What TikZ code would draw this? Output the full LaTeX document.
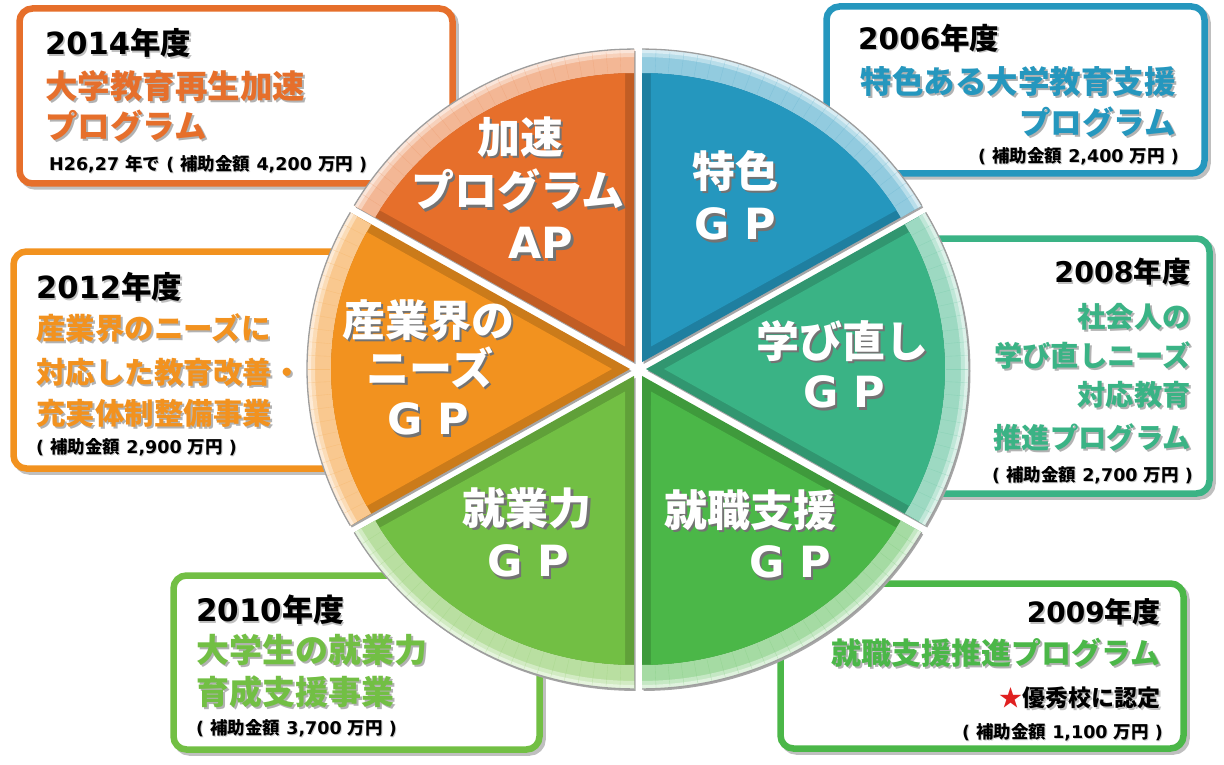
\documentclass[tikz,border=0pt]{standalone}
\usepackage{fontspec}
\setmainfont{Noto Sans CJK JP}
\newfontfamily\latf{DejaVu Sans}
\usetikzlibrary{calc}
\definecolor{cAP}{HTML}{E66F2B}
\definecolor{cTK}{HTML}{2597BE}
\definecolor{cMN}{HTML}{3AB385}
\definecolor{cSS}{HTML}{4BB748}
\definecolor{cSG}{HTML}{72BF44}
\definecolor{cSN}{HTML}{F2921F}
\definecolor{starred}{HTML}{E02020}
\newcommand\nm[1]{{\latf\bfseries #1}}
\newcommand\fsz[1]{\fontsize{#1}{#1}\selectfont}
\newcommand\shd[3]{\leavevmode\rlap{\hspace*{#1}\raisebox{-#1}[0pt][0pt]{\textcolor{#2}{#3}}}#3}
\newcommand\sector[3]{%
 \pgfmathsetmacro\secbis{(#1+#2)/2}%
 \pgfmathsetmacro\secia{#1+1.7}%
 \pgfmathsetmacro\secib{#2-1.7}%
 \begin{scope}[shift={(\secbis:8)}]
  \fill[black!35] ($(638,369)+(1.5,2)$) -- ($(638,369)+(1.5,2)+(#1:323 and 313)$) arc[start angle=#1,end angle=#2,x radius=323,y radius=313] -- cycle;
  \fill[#3!84!black] (638,369) -- ($(638,369)+(#1:323 and 313)$) arc[start angle=#1,end angle=#2,x radius=323,y radius=313] -- cycle;
  \fill[#3!50!white] ($(638,369)+(#1:323 and 313)$) arc[start angle=#1,end angle=#2,x radius=323,y radius=313] -- ($(638,369)+(#2:299 and 289)$) arc[start angle=#2,end angle=#1,x radius=299,y radius=289] -- cycle;
  \fill[#3!32!white] ($(638,369)+(#1:323 and 313)$) arc[start angle=#1,end angle=#2,x radius=323,y radius=313] -- ($(638,369)+(#2:315 and 305)$) arc[start angle=#2,end angle=#1,x radius=315,y radius=305] -- cycle;
  \fill[#3!18!white] ($(638,369)+(#1:323 and 313)$) arc[start angle=#1,end angle=#2,x radius=323,y radius=313] -- ($(638,369)+(#2:319 and 309)$) arc[start angle=#2,end angle=#1,x radius=319,y radius=309] -- cycle;
  \foreach \k in {1,...,23}{\pgfmathsetmacro\tkang{#1+2.5*\k}
   \draw[#3!70!white, line width=0.35pt, opacity=0.45] ($(638,369)+(\tkang:300 and 290)$) -- ($(638,369)+(\tkang:322 and 312)$);}
  \draw[black!38,line width=1.3pt] ($(638,369)+(#1:323 and 313)$) arc[start angle=#1,end angle=#2,x radius=323,y radius=313];
  \fill[#3] ($(638,369)+(\secbis:18)$) -- ($(638,369)+(\secia:299 and 289)$) arc[start angle=\secia,end angle=\secib,x radius=299,y radius=289] -- cycle;
 \end{scope}}
\tikzset{
 yr/.style={inner sep=0pt, font=\bfseries\fsz{#1}, text=black},
 ttl/.style={inner sep=0pt, font=\bfseries\fsz{#1}},
 note/.style={inner sep=0pt, font=\bfseries\fsz{17.5}, text=black},
 pl/.style={inner sep=0pt, font=\bfseries\fsz{43}, text=white},
 boxline/.style={draw=#1, line width=6.5pt, rounded corners=13pt, fill=white},
 boxshadow/.style={draw=black!25, line width=6.5pt, rounded corners=13pt},
}
\begin{document}
\begin{tikzpicture}[x=1pt,y=-1pt]
\useasboundingbox (0,0) rectangle (1224,765);
% boxes
\draw[boxshadow] (22.5,11.5) rectangle (455.5,186.5);
\draw[boxline=cAP] (19.5,8.5) rectangle (452.5,183.5);
\draw[boxshadow] (829.5,9.5) rectangle (1207.5,176.5);
\draw[boxline=cTK] (826.5,6.5) rectangle (1204.5,173.5);
\draw[boxshadow] (16.5,254.5) rectangle (403,471.5);
\draw[boxline=cSN] (13.5,251.5) rectangle (400,468.5);
\draw[boxshadow] (903,241.5) rectangle (1212.5,496.5);
\draw[boxline=cMN] (900,238.5) rectangle (1209.5,493.5);
\draw[boxshadow] (176.5,578.5) rectangle (542.5,752.5);
\draw[boxline=cSG] (173.5,575.5) rectangle (539.5,749.5);
\draw[boxshadow] (783.5,586.5) rectangle (1186.5,751.5);
\draw[boxline=cSS] (780.5,583.5) rectangle (1183.5,748.5);
% pie
\sector{-150}{-90}{cAP}
\sector{-90}{-30}{cTK}
\sector{-30}{30}{cMN}
\sector{30}{90}{cSS}
\sector{90}{150}{cSG}
\sector{150}{210}{cSN}
% pie labels
\node[pl] (lAPa) at (520,137) {\shd{2.5pt}{black!55}{加速}};
\node[pl] (lAPb) at (518,190) {\shd{2.5pt}{black!55}{プログラム}};
\node[pl] (lAPc) at (541,243) {\shd{2.5pt}{black!55}{\nm{AP}}};
\node[pl] (lTKa) at (735,171) {\shd{2.5pt}{black!55}{特色}};
\node[pl] (lTKb) at (735,224) {\shd{2.5pt}{black!55}{\nm{G P}}};
\node[pl] (lMNa) at (842,341) {\shd{2.5pt}{black!55}{学び直し}};
\node[pl] (lMNb) at (844,392) {\shd{2.5pt}{black!55}{\nm{G P}}};
\node[pl] (lSSa) at (750,510) {\shd{2.5pt}{black!55}{就職支援}};
\node[pl] (lSSb) at (790,562) {\shd{2.5pt}{black!55}{\nm{G P}}};
\node[pl] (lSGa) at (527,508) {\shd{2.5pt}{black!55}{就業力}};
\node[pl] (lSGb) at (528,561) {\shd{2.5pt}{black!55}{\nm{G P}}};
\node[pl] (lSNa) at (428,320) {\shd{2.5pt}{black!55}{産業界の}};
\node[pl] (lSNb) at (430,367) {\shd{2.5pt}{black!55}{ニーズ}};
\node[pl] (lSNc) at (428,419) {\shd{2.5pt}{black!55}{\nm{G P}}};
% box 1
\node[yr=30.5,anchor=west] (y1) at (45,43) {\shd{1.5pt}{black!25}{\nm{2014}年度}};
\node[ttl=32.5,text=cAP,anchor=west] (t1a) at (45,86) {\shd{2pt}{black!30}{大学教育再生加速}};
\node[ttl=32.5,text=cAP,anchor=west] (t1b) at (45,126) {\shd{2pt}{black!30}{プログラム}};
\node[note,anchor=west] (n1) at (49,164) {\shd{1pt}{black!20}{\nm{H26,27 }年で\nm{ ( }補助金額\nm{ 4,200 }万円\nm{ )}}};
% box 2
\node[yr=29.5,anchor=west] (y2) at (858,38) {\shd{1.5pt}{black!25}{\nm{2006}年度}};
\node[ttl=31.5,text=cTK,anchor=east] (t2a) at (1176,82) {\shd{2pt}{black!30}{特色ある大学教育支援}};
\node[ttl=31.5,text=cTK,anchor=east] (t2b) at (1176,122) {\shd{2pt}{black!30}{プログラム}};
\node[note,anchor=east] (n2) at (1179,156) {\shd{1pt}{black!20}{\nm{( }補助金額\nm{ 2,400 }万円\nm{ )}}};
% box 3
\node[yr=30.5,anchor=west] (y3) at (36,287) {\shd{1.5pt}{black!25}{\nm{2012}年度}};
\node[ttl=29.5,text=cSN,anchor=west] (t3a) at (36,328) {\shd{2pt}{black!30}{産業界のニーズに}};
\node[ttl=29.5,text=cSN,anchor=west] (t3b) at (36,372) {\shd{2pt}{black!30}{対応した教育改善・}};
\node[ttl=29.5,text=cSN,anchor=west] (t3c) at (36,413) {\shd{2pt}{black!30}{充実体制整備事業}};
\node[note,anchor=west] (n3) at (36,447) {\shd{1pt}{black!20}{\nm{( }補助金額\nm{ 2,900 }万円\nm{ )}}};
% box 4
\node[yr=28.5,anchor=east] (y4) at (1191,272) {\shd{1.5pt}{black!25}{\nm{2008}年度}};
\node[ttl=28.3,text=cMN,anchor=east] (t4a) at (1191,317) {\shd{2pt}{black!30}{社会人の}};
\node[ttl=28.3,text=cMN,anchor=east] (t4b) at (1191,355) {\shd{2pt}{black!30}{学び直しニーズ}};
\node[ttl=28.3,text=cMN,anchor=east] (t4c) at (1191,395) {\shd{2pt}{black!30}{対応教育}};
\node[ttl=28.3,text=cMN,anchor=east] (t4d) at (1191,437) {\shd{2pt}{black!30}{推進プログラム}};
\node[note,anchor=east] (n4) at (1193,475) {\shd{1pt}{black!20}{\nm{( }補助金額\nm{ 2,700 }万円\nm{ )}}};
% box 5
\node[yr=31,anchor=west] (y5) at (196,610) {\shd{1.5pt}{black!25}{\nm{2010}年度}};
\node[ttl=33,text=cSG,anchor=west] (t5a) at (196,650) {\shd{2pt}{black!30}{大学生の就業力}};
\node[ttl=33,text=cSG,anchor=west] (t5b) at (196,692) {\shd{2pt}{black!30}{育成支援事業}};
\node[note,anchor=west] (n5) at (196,728) {\shd{1pt}{black!20}{\nm{( }補助金額\nm{ 3,700 }万円\nm{ )}}};
% box 6
\node[yr=28,anchor=east] (y6) at (1161,612) {\shd{1.5pt}{black!25}{\nm{2009}年度}};
\node[ttl=30,text=cSS,anchor=east] (t6a) at (1161,653) {\shd{2pt}{black!30}{就職支援推進プログラム}};
\node[ttl=23,text=black,anchor=east] (s6) at (1161,698) {\textcolor{starred}{★}\shd{1.5pt}{black!25}{優秀校に認定}};
\node[note,anchor=east] (n6) at (1163,732) {\shd{1pt}{black!20}{\nm{( }補助金額\nm{ 1,100 }万円\nm{ )}}};
\end{tikzpicture}
\end{document}
